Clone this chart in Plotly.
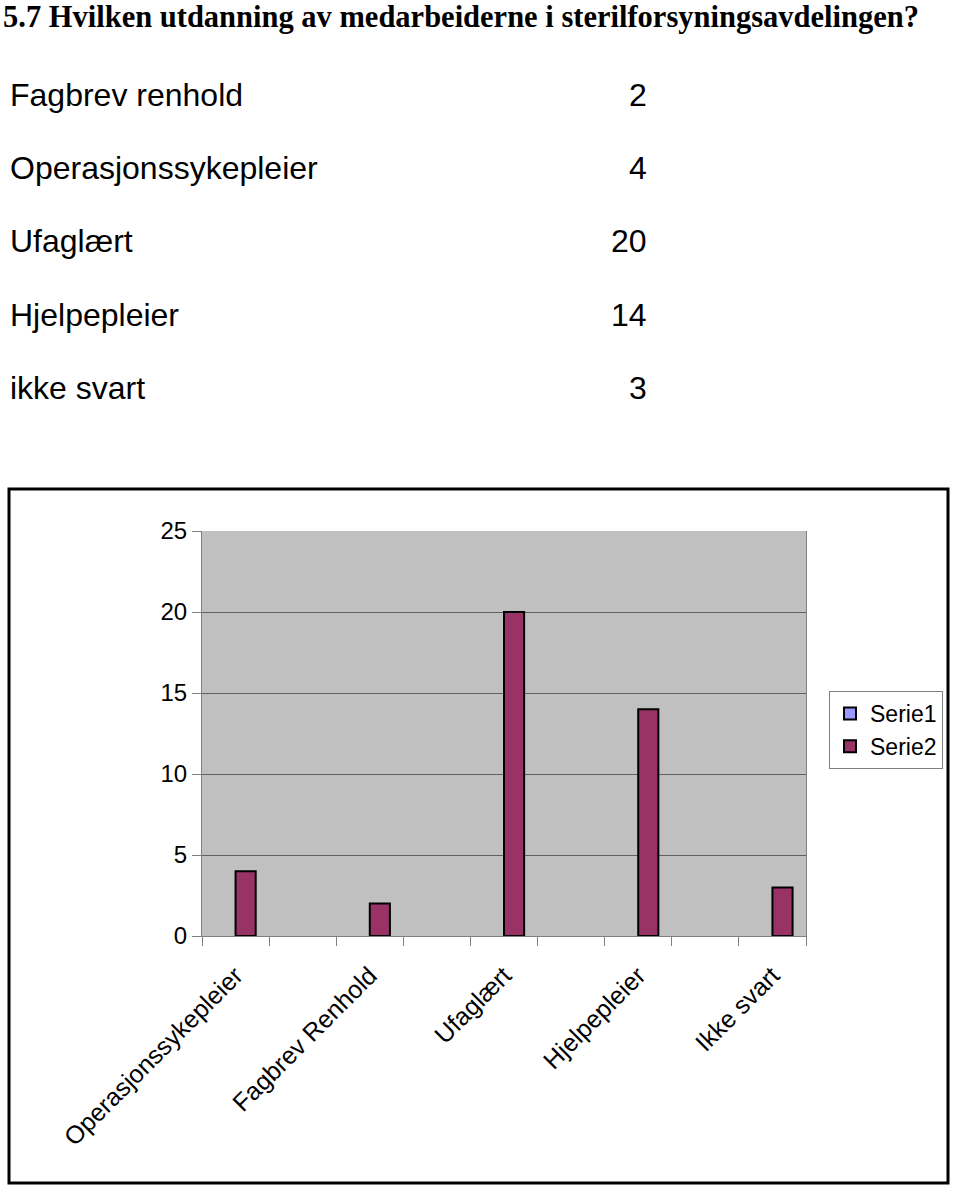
import plotly.graph_objects as go

# ---- data ----
title_text = "5.7 Hvilken utdanning av medarbeiderne i sterilforsyningsavdelingen?"
table_labels = ["Fagbrev renhold", "Operasjonssykepleier", "Ufaglært", "Hjelpepleier", "ikke svart"]
table_values = [2, 4, 20, 14, 3]

categories = ["Operasjonssykepleier", "", "Fagbrev Renhold", "", "Ufaglært", "", "Hjelpepleier", "", "Ikke svart"]
serie1 = [None, None, None, None, None, None, None, None, None]
serie2 = [4, None, 2, None, 20, None, 14, None, 3]
y_ticks = [0, 5, 10, 15, 20, 25]

W, H = 960, 1185
L, R, T, B = 202, 154, 531, 249
PW, PH = W - L - R, H - T - B

def px_x(p):
    return (p - L) / PW

def px_y(p):
    return (H - B - p) / PH

pos = list(range(len(categories)))
label_pos = [i for i, c in enumerate(categories) if c]
label_txt = [c for c in categories if c]

fig = go.Figure()
fig.add_trace(go.Bar(x=pos, y=serie1, name="Serie1",
                     marker=dict(color="#9999FF", line=dict(color="#000000", width=2))))
fig.add_trace(go.Bar(x=pos, y=serie2, name="Serie2",
                     marker=dict(color="#993366", line=dict(color="#000000", width=2))))

font_sans = "Liberation Sans, Arial, sans-serif"

annotations = [dict(text=f"<b>{title_text}</b>", xref="paper", yref="paper",
                    x=px_x(1), y=px_y(17), xanchor="left", yanchor="middle",
                    showarrow=False, font=dict(family="Liberation Serif, Times New Roman, serif", size=30.5, color="#000"))]
row_y = [95, 168, 241, 315, 388]
for lab, val, ry in zip(table_labels, table_values, row_y):
    annotations.append(dict(text=lab, xref="paper", yref="paper", x=px_x(8), y=px_y(ry),
                            xanchor="left", yanchor="middle", showarrow=False,
                            font=dict(family=font_sans, size=32, color="#000")))
    annotations.append(dict(text=str(val), xref="paper", yref="paper", x=px_x(649), y=px_y(ry),
                            xanchor="right", yanchor="middle", showarrow=False,
                            font=dict(family=font_sans, size=32, color="#000")))

shapes = [dict(type="rect", xref="paper", yref="paper",
               x0=px_x(9), x1=px_x(948), y0=px_y(489), y1=px_y(1183),
               line=dict(color="#000000", width=3), layer="below")]

fig.update_layout(
    width=W, height=H,
    margin=dict(l=L, r=R, t=T, b=B),
    paper_bgcolor="#FFFFFF", plot_bgcolor="#C0C0C0",
    barmode="group", bargap=0.4, bargroupgap=0,
    font=dict(family=font_sans, size=24, color="#000"),
    showlegend=True,
    legend=dict(x=px_x(829), y=px_y(691), xanchor="left", yanchor="top",
                bgcolor="#FFFFFF", bordercolor="#808080", borderwidth=1,
                font=dict(family=font_sans, size=23, color="#000"),
                itemsizing="constant", tracegroupgap=6),
    xaxis=dict(range=[-0.5, len(categories) - 0.5], tickmode="array",
               tickvals=label_pos, ticktext=label_txt, tickangle=-45, ticks="",
               ticklabelstandoff=14,
               showgrid=False, zeroline=False, showline=True, linecolor="#808080", linewidth=1,
               minor=dict(tickmode="array", tickvals=[i - 0.5 for i in range(len(categories) + 1)],
                          ticks="outside", ticklen=9, tickcolor="#808080", tickwidth=1, showgrid=False),
               tickfont=dict(size=25)),
    yaxis=dict(range=[0, 25], tickmode="array", tickvals=y_ticks, ticks="outside", ticklen=9,
               tickcolor="#808080", showgrid=True, gridcolor="#606060", gridwidth=1,
               zeroline=False, showline=True, linecolor="#808080", mirror=True,
               tickfont=dict(size=24)),
    annotations=annotations,
    shapes=shapes,
)

fig.write_html("out.html")
